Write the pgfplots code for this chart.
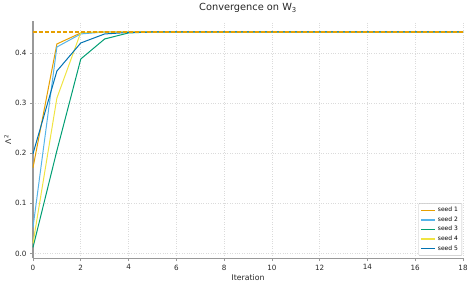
\documentclass[border=0pt]{standalone}
\usepackage{pgfplots}
\pgfplotsset{compat=1.18}
\usepackage{fontspec}
\setmainfont{DejaVu Sans}
\definecolor{seedA}{HTML}{E69F00}
\definecolor{seedB}{HTML}{56B4E9}
\definecolor{seedC}{HTML}{009E73}
\definecolor{seedD}{HTML}{F0E442}
\definecolor{seedE}{HTML}{0072B2}
\definecolor{spine}{HTML}{999999}
\begin{document}
\begin{tikzpicture}
\begin{axis}[
  scale only axis, width=430pt, height=237pt,
  xmin=0, xmax=18, ymin=-0.0095, ymax=0.4635,
  xtick={0,2,...,18}, ytick={0,0.1,0.2,0.3,0.4},
  yticklabel style={/pgf/number format/.cd,fixed,fixed zerofill,precision=1},
  /pgf/number format/assume math mode=true,
  ticklabel style={font=\fontsize{7.2}{8}\selectfont, text=black!85},
  axis lines*=left,
  axis line style={spine, line width=1.3pt},
  major tick style={spine, line width=0.7pt},
  tick align=outside, major tick length=3pt,
  grid=major, grid style={dotted, black!14, line width=0.6pt},
  title={Convergence on W\textsubscript{3}},
  title style={font=\fontsize{9.8}{11}\selectfont, text=black!85, yshift=-1pt},
  xlabel={Iteration}, ylabel={Λ\textsuperscript{2}},
  xlabel style={font=\fontsize{7.8}{9}\selectfont, text=black!85, yshift=2pt},
  ylabel style={font=\fontsize{7.8}{9}\selectfont, text=black!85, yshift=-3pt},
  legend pos=south east,
  legend style={font=\fontsize{6}{7}\selectfont, draw=black!25, fill=white, rounded corners=1pt, row sep=-0.5pt, inner sep=2pt, at={(0.998,0.01)}},
  legend cell align=left,
  legend image code/.code={\draw[#1, line width=1.2pt] (0pt,0pt) -- (14pt,0pt);},
  every axis plot/.append style={line width=1.0pt},
  clip=false,
]
\addplot[seedA, no markers] coordinates {(0,0.171)(1,0.418)(2,0.440)(3,0.442)(4,0.442)(5,0.442)(6,0.442)(7,0.442)(8,0.442)(9,0.442)(10,0.442)(11,0.442)(12,0.442)(13,0.442)(14,0.442)(15,0.442)(16,0.442)(17,0.442)(18,0.442)};
\addlegendentry{seed 1}
\addplot[seedB, no markers] coordinates {(0,0.052)(1,0.412)(2,0.438)(3,0.442)(4,0.442)(5,0.442)(6,0.442)(7,0.442)(8,0.442)(9,0.442)(10,0.442)(11,0.442)(12,0.442)(13,0.442)(14,0.442)(15,0.442)(16,0.442)(17,0.442)(18,0.442)};
\addlegendentry{seed 2}
\addplot[seedC, no markers] coordinates {(0,0.012)(1,0.205)(2,0.388)(3,0.428)(4,0.440)(5,0.442)(6,0.442)(7,0.442)(8,0.442)(9,0.442)(10,0.442)(11,0.442)(12,0.442)(13,0.442)(14,0.442)(15,0.442)(16,0.442)(17,0.442)(18,0.442)};
\addlegendentry{seed 3}
\addplot[seedD, no markers] coordinates {(0,0.020)(1,0.310)(2,0.441)(3,0.442)(4,0.442)(5,0.442)(6,0.442)(7,0.442)(8,0.442)(9,0.442)(10,0.442)(11,0.442)(12,0.442)(13,0.442)(14,0.442)(15,0.442)(16,0.442)(17,0.442)(18,0.442)};
\addlegendentry{seed 4}
\addplot[seedE, no markers] coordinates {(0,0.199)(1,0.364)(2,0.420)(3,0.438)(4,0.441)(5,0.442)(6,0.442)(7,0.442)(8,0.442)(9,0.442)(10,0.442)(11,0.442)(12,0.442)(13,0.442)(14,0.442)(15,0.442)(16,0.442)(17,0.442)(18,0.442)};
\addlegendentry{seed 5}
\addplot[seedA, dash pattern=on 4pt off 2pt, line width=1.1pt, forget plot] coordinates {(0,0.4418)(18,0.4418)};
\path[use as bounding box] (rel axis cs:0,0) ++(-33pt,-29pt) rectangle ++(476pt,286pt);
\end{axis}
\end{tikzpicture}
\end{document}
